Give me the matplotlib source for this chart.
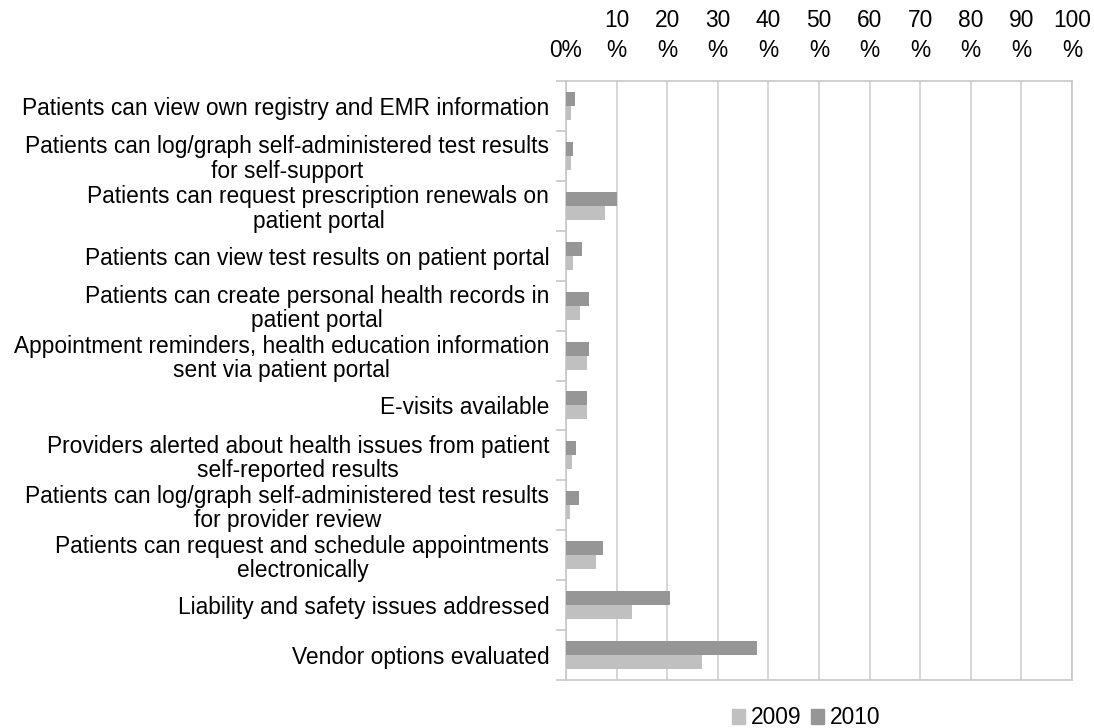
import numpy as np
import matplotlib.pyplot as plt
from matplotlib.patches import Patch

categories = [
    "Patients can view own registry and EMR information",
    "Patients can log/graph self-administered test results\nfor self-support",
    "Patients can request prescription renewals on\npatient portal",
    "Patients can view test results on patient portal",
    "Patients can create personal health records in\npatient portal",
    "Appointment reminders, health education information\nsent via patient portal",
    "E-visits available",
    "Providers alerted about health issues from patient\nself-reported results",
    "Patients can log/graph self-administered test results\nfor provider review",
    "Patients can request and schedule appointments\nelectronically",
    "Liability and safety issues addressed",
    "Vendor options evaluated",
]
vals_2009 = [1.0, 1.0, 7.7, 1.4, 2.8, 4.2, 4.2, 1.1, 0.7, 6.0, 13.0, 26.9]
vals_2010 = [1.8, 1.4, 10.1, 3.2, 4.6, 4.6, 4.2, 1.9, 2.5, 7.4, 20.5, 37.8]
xticks = [0, 10, 20, 30, 40, 50, 60, 70, 80, 90, 100]
xtick_labels = ["0%"] + ["%d\n%%" % t for t in xticks[1:]]

plt.rcParams['font.family'] = ['Liberation Sans', 'DejaVu Sans']
fs = 16.4

fig = plt.figure(figsize=(10.94, 7.28), dpi=100)
ax = fig.add_axes([566 / 1094, 1 - 680 / 728, 506 / 1094, 599 / 728])

n = len(categories)
y = np.arange(n)
h = 0.28
c2009 = "#c0c0c0"
c2010 = "#969696"
ax.barh(y + h / 2, vals_2009, height=h, color=c2009, zorder=3)
ax.barh(y - h / 2, vals_2010, height=h, color=c2010, zorder=3)

ax.set_ylim(n - 0.5, -0.5)
ax.set_xlim(0, 100)

ax.xaxis.tick_top()
ax.set_xticks(xticks)
ax.set_xticklabels(xtick_labels, fontsize=fs, linespacing=1.38)
ax.tick_params(axis='x', length=0, pad=14)
ax.grid(axis='x', color="#d0d0d0", linewidth=1.2, zorder=0)

ax.set_yticks(y)
ax.set_yticklabels(categories, fontsize=fs, multialignment='center', linespacing=1.07)
ax.tick_params(axis='y', length=0, pad=12)
ax.set_yticks(np.arange(n + 1) - 0.5, minor=True)
ax.tick_params(axis='y', which='minor', length=7, color="#c8c8c8", width=1.2)

for s in ax.spines.values():
    s.set_color("#c8c8c8")
    s.set_linewidth(1.2)

handles = [Patch(color=c2009, label="2009"), Patch(color=c2010, label="2010")]
fig.legend(handles=handles, loc='center', bbox_to_anchor=(806 / 1094, 1 - 718 / 728),
           ncol=2, frameon=False, fontsize=fs, handlelength=0.6, handleheight=0.6,
           handletextpad=0.25, columnspacing=0.4)

fig.savefig("out.png", dpi=100)
